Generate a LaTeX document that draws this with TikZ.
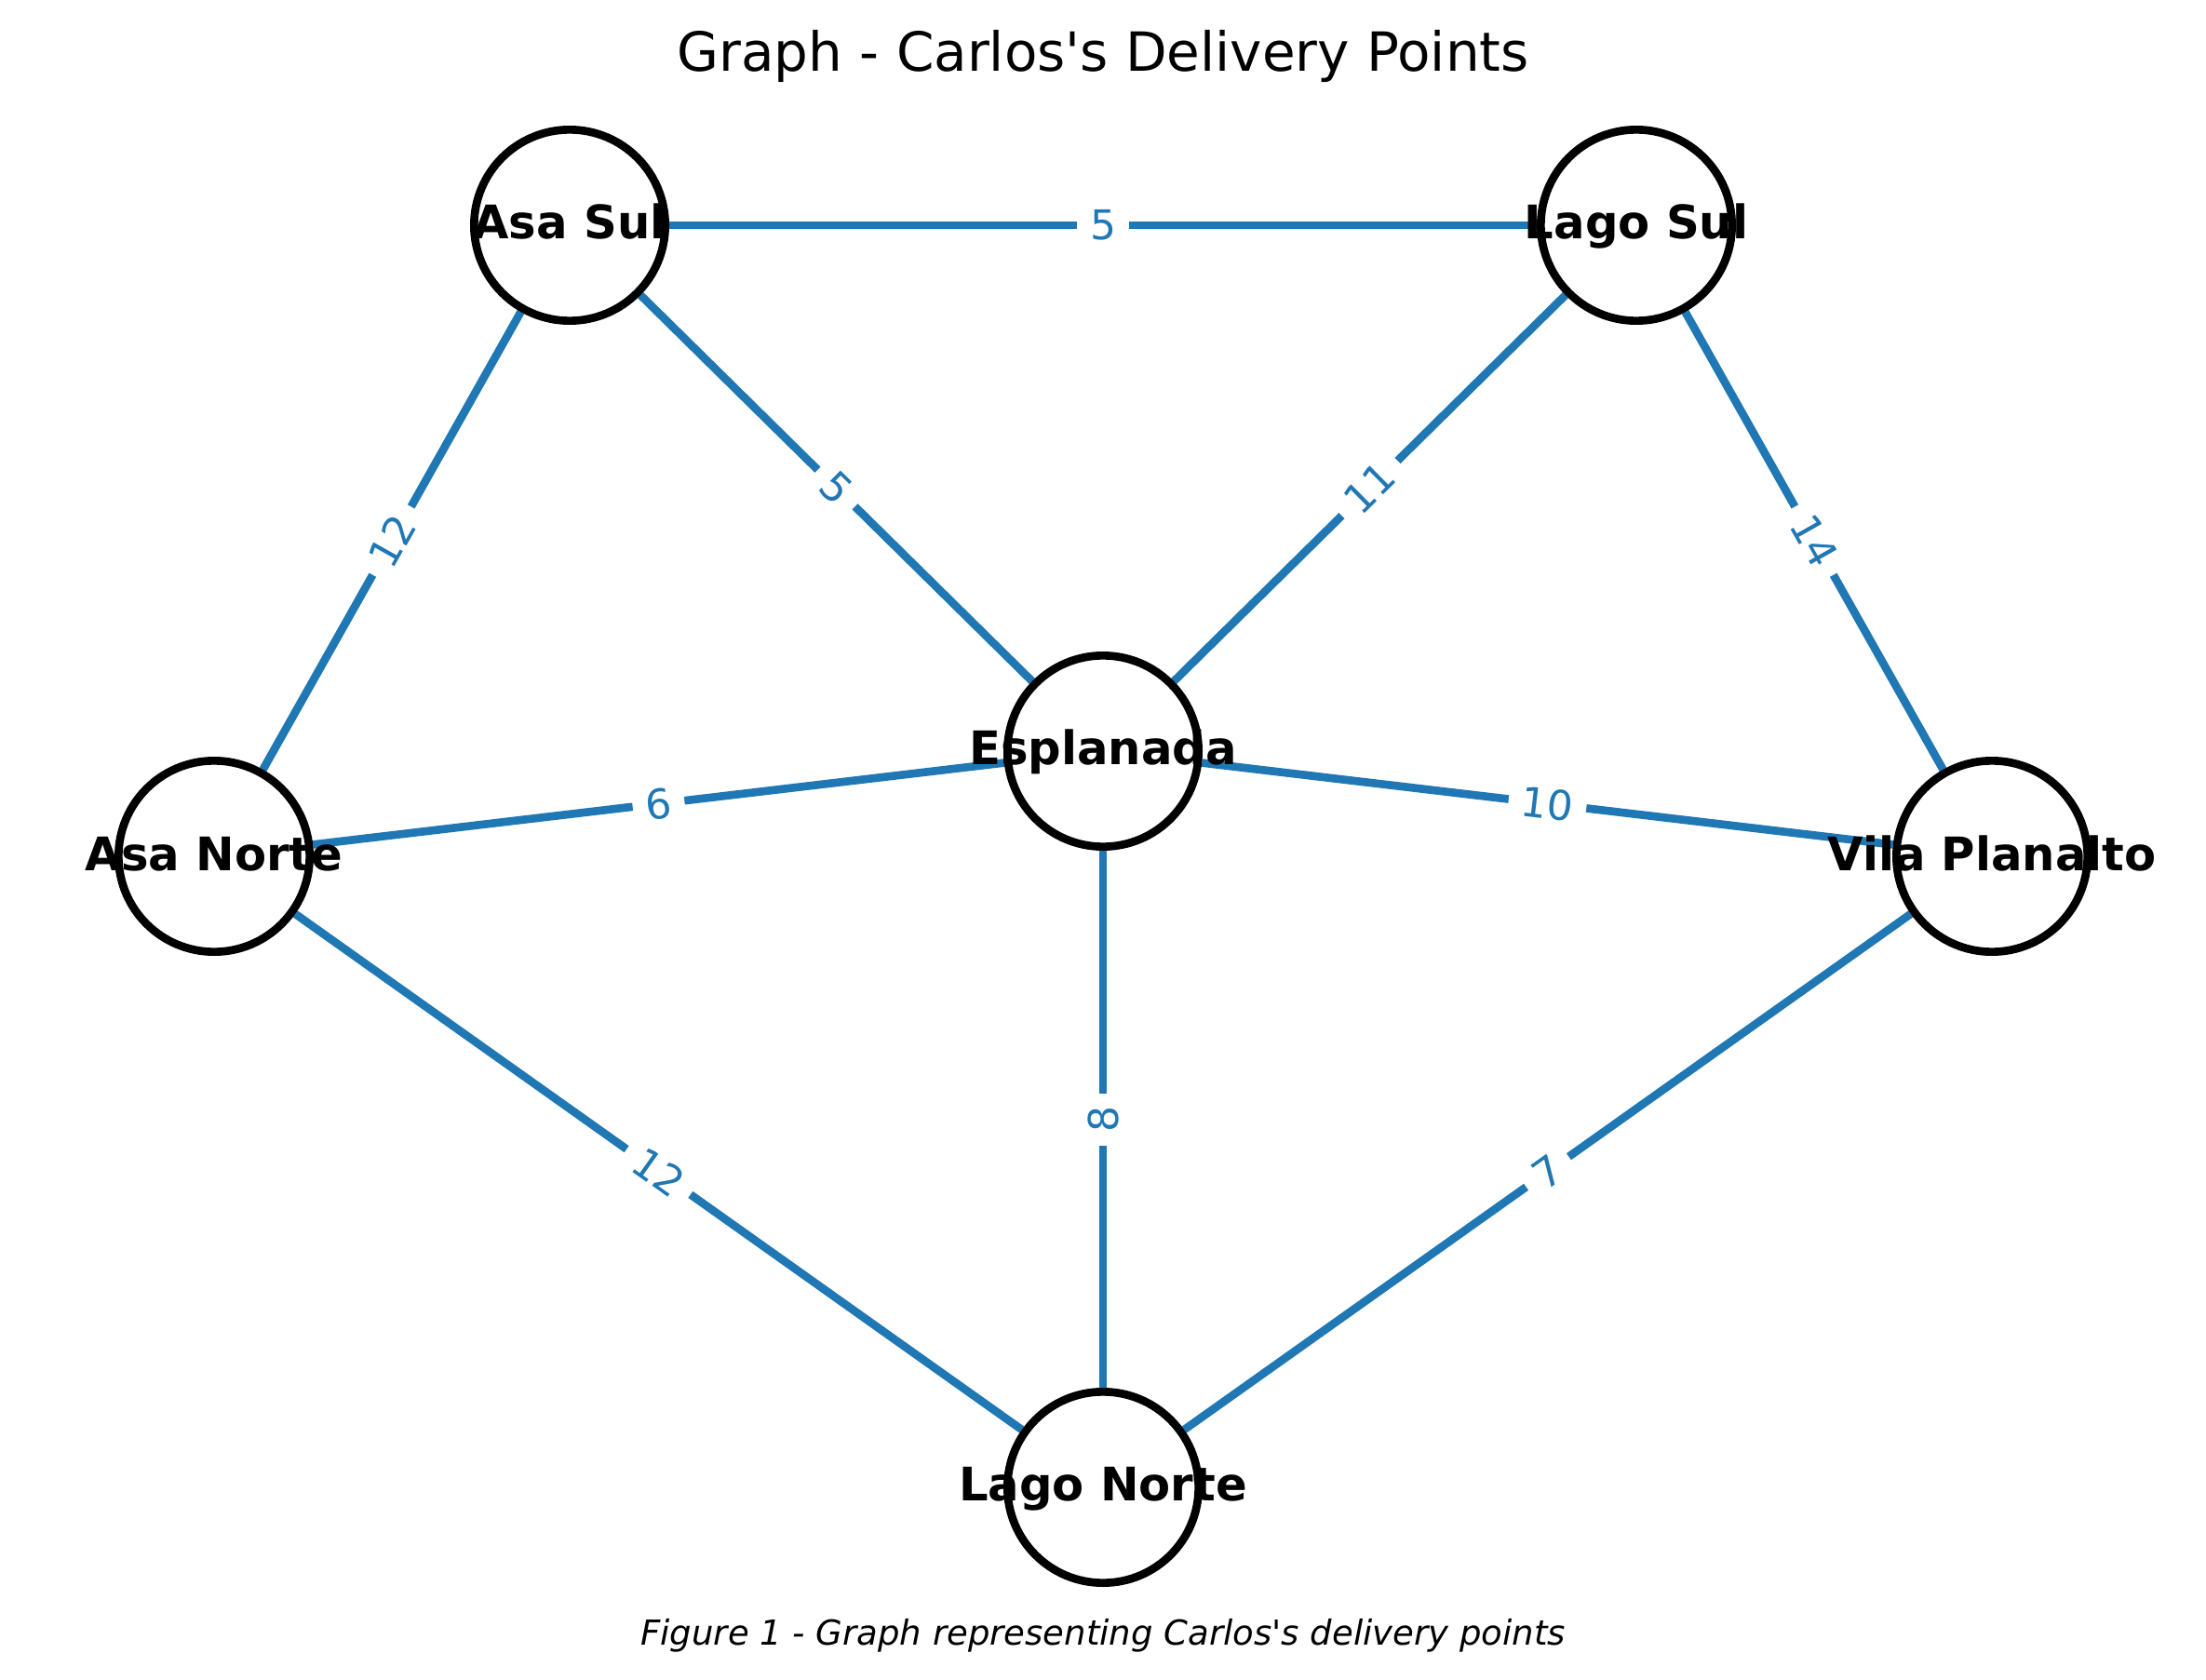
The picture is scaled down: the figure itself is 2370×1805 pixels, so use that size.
\documentclass[tikz,border=0pt]{standalone}
\usepackage{fontspec}
\setmainfont{DejaVu Sans}
\usetikzlibrary{backgrounds}
\definecolor{edgeblue}{HTML}{1F77B4}
\begin{document}
\begin{tikzpicture}[x=0.3pt,y=-0.3pt,
  vertex/.style={circle, draw=black, line width=2.6pt, fill=white, minimum size=61.6pt, inner sep=0pt},
  vlabel/.style={font=\bfseries\fontsize{14.9}{18}\selectfont, anchor=base, inner sep=0pt},
  wedge/.style={draw=edgeblue, line width=2.6pt},
  wlabel/.style={midway, sloped, fill=white, text=edgeblue, font=\fontsize{13.2}{15}\selectfont, inner xsep=4.2pt, inner ysep=2pt}]
\useasboundingbox (0,0) rectangle (2370,1805);
% vertices
\node[vertex] (as) at (612,242) {};
\node[vertex] (ls) at (1758,242) {};
\node[vertex] (es) at (1185,807) {};
\node[vertex] (an) at (230,920) {};
\node[vertex] (vp) at (2140,920) {};
\node[vertex] (ln) at (1185,1598) {};
% edges
\begin{pgfonlayer}{background}
\draw[wedge] (as) -- node[wlabel]{5} (ls);
\draw[wedge] (an) -- node[wlabel]{12} (as);
\draw[wedge] (as) -- node[wlabel]{5} (es);
\draw[wedge] (es) -- node[wlabel]{11} (ls);
\draw[wedge] (ls) -- node[wlabel]{14} (vp);
\draw[wedge] (an) -- node[wlabel]{6} (es);
\draw[wedge] (es) -- node[wlabel]{10} (vp);
\draw[wedge] (ln) -- node[wlabel]{8} (es);
\draw[wedge] (an) -- node[wlabel]{12} (ln);
\draw[wedge] (ln) -- node[wlabel]{7} (vp);
\end{pgfonlayer}
% vertex labels
\node[vlabel] (ast) at (612,257) {Asa Sul};
\node[vlabel] (lst) at (1758,257) {Lago Sul};
\node[vlabel] (est) at (1185,821) {Esplanada};
\node[vlabel] (ant) at (230,935) {Asa Norte};
\node[vlabel] (vpt) at (2140,935) {Vila Planalto};
\node[vlabel] (lnt) at (1185,1612) {Lago Norte};
% title and caption
\node[font=\fontsize{17.4}{20}\selectfont, anchor=base, inner sep=0pt] (title) at (1185,77) {Graph - Carlos\textquotesingle s Delivery Points};
\node[font=\itshape\fontsize{11.1}{13}\selectfont, anchor=base, inner sep=0pt] (caption) at (1185,1767) {Figure 1 - Graph representing Carlos\textquotesingle s delivery points};
\end{tikzpicture}
\end{document}
